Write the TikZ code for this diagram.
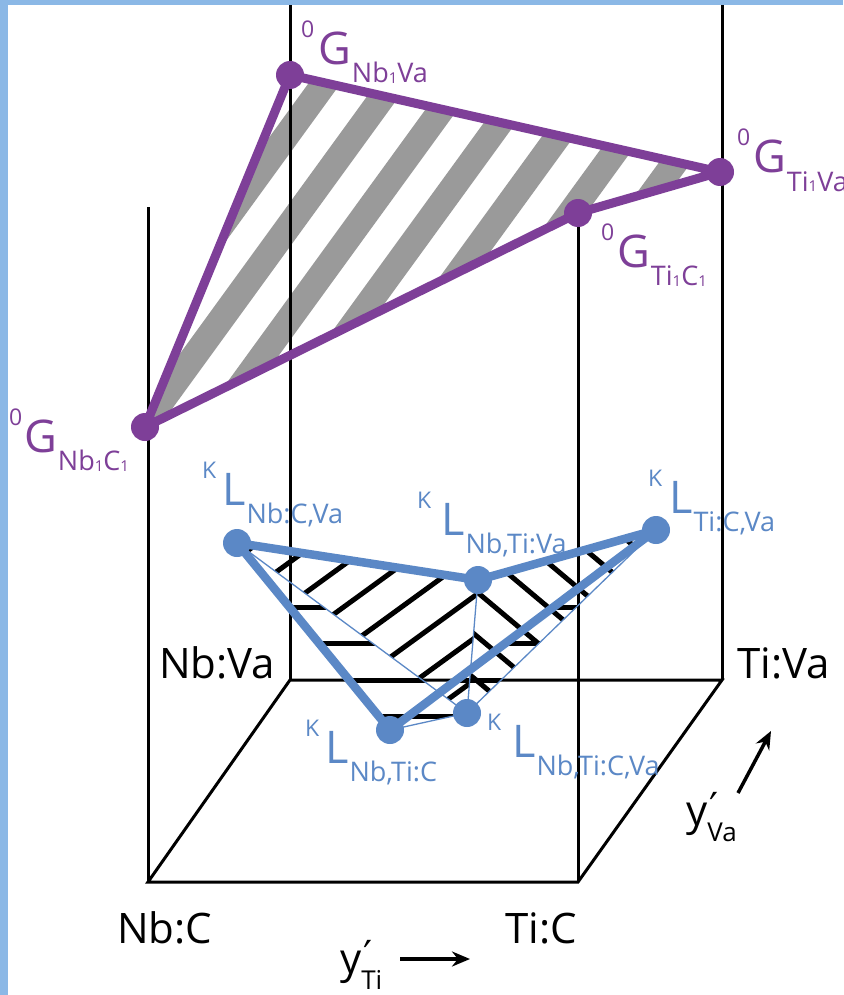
\documentclass[tikz,border=0pt]{standalone}
\usepackage{fontspec}
\setmainfont{Open Sans}
\newfontfamily\primefont{DejaVu Sans}
\usetikzlibrary{arrows.meta}
\definecolor{gpurple}{HTML}{7E3F98}
\definecolor{lblue}{HTML}{5B88C6}
\definecolor{stripegray}{HTML}{9A9A9A}
\definecolor{bgblue}{HTML}{8BB8E6}
\newcommand{\one}{\raisebox{-1pt}{\fontsize{15}{15}\selectfont 1}}
\newcommand{\clab}[4]{\llap{\raisebox{27pt}{\fontsize{23}{23}\selectfont #1}\kern#4}{\fontsize{45}{45}\selectfont #2}\kern1pt\raisebox{-18pt}{\fontsize{27}{27}\selectfont #3}}
\newcommand{\yprime}[1]{y\rlap{\kern2pt\raisebox{4pt}{\primefont\fontsize{40}{40}\selectfont ′}}\raisebox{-16pt}{\fontsize{26}{26}\selectfont #1}}
\tikzset{
  boxline/.style={black, line width=3pt},
  pline/.style={gpurple, line width=9pt, line join=round, line cap=round},
  bthick/.style={lblue, line width=8.5pt, line join=round, line cap=round},
  bthin/.style={lblue, line width=1.3pt},
  pdot/.style={circle, fill=gpurple, minimum size=28pt, inner sep=0pt},
  bdot/.style={circle, fill=lblue, minimum size=28pt, inner sep=0pt},
  glab/.style={gpurple, anchor=base west, inner sep=0pt},
  llab/.style={lblue, anchor=base west, inner sep=0pt},
  cornerlab/.style={anchor=base west, inner sep=0pt, font=\fontsize{42}{42}\selectfont},
  hatch/.style={black, line width=5pt},
}
\begin{document}
\begin{tikzpicture}[x=1pt,y=-1pt]
\useasboundingbox (0,0) rectangle (843,995);
\fill[bgblue] (0,0) rectangle (843,995);
\fill[white] (8,5) rectangle (843,995);

% key positions
\coordinate (pNbVa) at (290,75);
\coordinate (pTiVa) at (720,172);
\coordinate (pTiC) at (578,213);
\coordinate (pNbC) at (145,427);
\coordinate (qNbCVa) at (237,543);
\coordinate (qNbTiVa) at (478,580);
\coordinate (qTiCVa) at (656,530);
\coordinate (qNbTiC) at (390,730);
\coordinate (qNbTiCVa) at (467,713);

% gray stripes
\begin{scope}
\clip (pNbVa) -- (pTiVa) -- (pTiC) -- (pNbC) -- cycle;
\foreach \k in {-6,...,4} {
  \pgfmathsetmacro\c{531.5+55*\k}
  \draw[stripegray, line width=26pt] ({\c*0.809-900*0.588},{\c*0.588+900*0.809}) -- ({\c*0.809+900*0.588},{\c*0.588-900*0.809});
}
\end{scope}

% black hatching of the lower surface
\begin{scope}
\clip (qNbCVa) -- (qNbTiVa) -- (qNbTiCVa) -- cycle;
\foreach \k in {-4,...,7} {
  \pgfmathsetmacro\c{659+34*\k}
  \draw[hatch] ({\c*0.588-1000*0.809},{\c*0.809+1000*0.588}) -- ({\c*0.588+1000*0.809},{\c*0.809-1000*0.588});
}
\end{scope}
\begin{scope}
\clip (qNbTiVa) -- (qTiCVa) -- (qNbTiCVa) -- cycle;
\foreach \k in {-6,...,4} {
  \pgfmathsetmacro\c{146.7+34*\k}
  \draw[hatch] ({-\c*0.643-1200*0.766},{\c*0.766-1200*0.643}) -- ({-\c*0.643+1200*0.766},{\c*0.766+1200*0.643});
}
\end{scope}
\begin{scope}
\clip (qNbCVa) -- (qNbTiCVa) -- (qNbTiC) -- cycle;
\foreach \yy in {607,643,680,716} \draw[hatch] (200,\yy) -- (700,\yy);
\end{scope}
\begin{scope}
\clip (qTiCVa) -- (qNbTiC) -- (qNbTiCVa) -- cycle;
\foreach \yy in {607,643,680,716} \draw[hatch] (200,\yy) -- (700,\yy);
\end{scope}

% box
\coordinate (NbC) at (148,882);
\coordinate (TiC) at (578,882);
\coordinate (NbVa) at (290,680);
\coordinate (TiVa) at (722,680);
\coordinate (NbCtop) at (148,207);
\coordinate (NbVatop) at (290,5);
\coordinate (TiVatop) at (722,5);
\draw[boxline, line join=miter] (NbVa) -- (TiVa) -- (TiC) -- (NbC) -- cycle;
\draw[boxline] (NbC) -- (NbCtop);
\draw[boxline] (TiC) -- (pTiC);
\draw[boxline] (NbVa) -- (NbVatop);
\draw[boxline] (TiVa) -- (TiVatop);

% purple G surface
\node[pdot] (gNbVa) at (pNbVa) {};
\node[pdot] (gTiVa) at (pTiVa) {};
\node[pdot] (gTiC) at (pTiC) {};
\node[pdot] (gNbC) at (pNbC) {};
\draw[pline] (gNbVa.center) -- (gTiVa.center) -- (gTiC.center) -- (gNbC.center) -- cycle;

% blue L surface
\node[bdot] (lNbCVa) at (qNbCVa) {};
\node[bdot] (lNbTiVa) at (qNbTiVa) {};
\node[bdot] (lTiCVa) at (qTiCVa) {};
\node[bdot] (lNbTiC) at (qNbTiC) {};
\node[bdot] (lNbTiCVa) at (qNbTiCVa) {};
\draw[bthin] (lNbCVa.center) -- (lNbTiCVa.center);
\draw[bthin] (lNbTiVa.center) -- (lNbTiCVa.center);
\draw[bthin] (lTiCVa.center) -- (lNbTiCVa.center);
\draw[bthin] (lNbTiC.center) -- (lNbTiCVa.center);
\draw[bthick] (lNbCVa.center) -- (lNbTiVa.center) -- (lTiCVa.center);
\draw[bthick] (lNbCVa.center) -- (lNbTiC.center) -- (lTiCVa.center);

% purple labels
\node[glab] (tgNbVa) at (318,65) {\clab{0}{G}{Nb\one Va}{4pt}};
\node[glab] (tgTiVa) at (753,173) {\clab{0}{G}{Ti\one Va}{3pt}};
\node[glab] (tgTiC) at (617,267) {\clab{0}{G}{Ti\one C\one}{3pt}};
\node[glab] (tgNbC) at (24,452) {\clab{0}{G}{Nb\one C\one}{2pt}};

% blue labels
\node[llab] (tlNbCVa) at (222,505) {\clab{K}{L}{Nb:C,Va}{6pt}};
\node[llab] (tlNbTiVa) at (441,535) {\clab{K}{L}{Nb,Ti:Va}{10pt}};
\node[llab] (tlTiCVa) at (669,513) {\clab{K}{L}{Ti:C,Va}{7pt}};
\node[llab] (tlNbTiC) at (325,763) {\clab{K}{L}{Nb,Ti:C}{6pt}};
\node[llab] (tlNbTiCVa) at (512,757) {\clab{K}{L}{Nb,Ti:C,Va}{11pt}};

% corner labels
\node[cornerlab] (cNbVa) at (159,678) {Nb:Va};
\node[cornerlab] (cTiVa) at (737,678) {Ti:Va};
\node[cornerlab] (cNbC) at (117,943) {Nb:C};
\node[cornerlab] (cTiC) at (505,943) {Ti:C};

% axis labels
\node[cornerlab] (yTi) at (340,973) {\yprime{Ti}};
\coordinate (aTiA) at (400,959);
\coordinate (aTiB) at (470,959);
\draw[line width=3.5pt, -{Stealth[length=18pt,width=15pt]}] (aTiA) -- (aTiB);
\node[cornerlab] (yVa) at (686,825) {\yprime{Va}};
\coordinate (aVaA) at (738,793);
\coordinate (aVaB) at (771,731);
\draw[line width=3.5pt, -{Stealth[length=18pt,width=15pt]}] (aVaA) -- (aVaB);
\end{tikzpicture}
\end{document}
